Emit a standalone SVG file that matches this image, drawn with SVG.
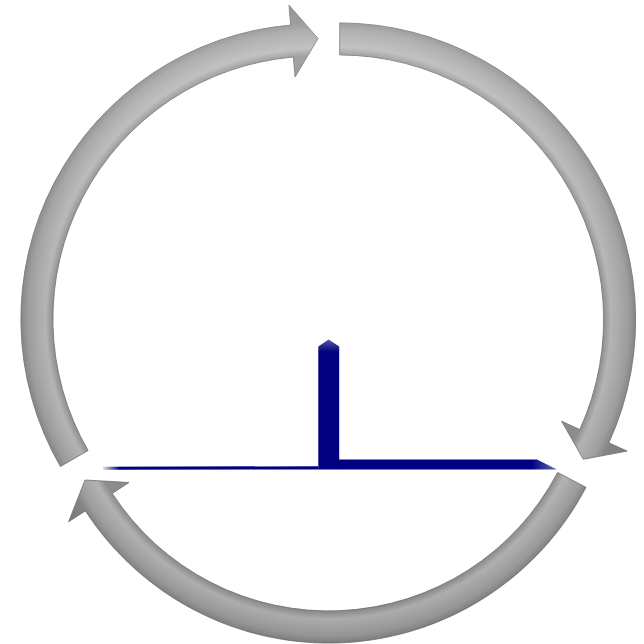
<svg xmlns="http://www.w3.org/2000/svg" width="644" height="644" viewBox="0 0 644 644">
  <defs>
    <radialGradient id="g1" gradientUnits="userSpaceOnUse" cx="315.9" cy="319" r="320">
      <stop offset="0.76" stop-color="#8a8a8a"/>
      <stop offset="0.822" stop-color="#8e8e8e"/>
      <stop offset="0.845" stop-color="#b4b4b4"/>
      <stop offset="0.87" stop-color="#aaaaaa"/>
      <stop offset="0.9" stop-color="#9c9c9c"/>
      <stop offset="0.922" stop-color="#858585"/>
      <stop offset="0.985" stop-color="#7a7a7a"/>
    </radialGradient>
    <radialGradient id="g2" gradientUnits="userSpaceOnUse" cx="338.8" cy="319.7" r="322">
      <stop offset="0.76" stop-color="#8a8a8a"/>
      <stop offset="0.822" stop-color="#8e8e8e"/>
      <stop offset="0.845" stop-color="#b4b4b4"/>
      <stop offset="0.87" stop-color="#aaaaaa"/>
      <stop offset="0.9" stop-color="#9c9c9c"/>
      <stop offset="0.922" stop-color="#858585"/>
      <stop offset="0.985" stop-color="#7a7a7a"/>
    </radialGradient>
    <radialGradient id="g3" gradientUnits="userSpaceOnUse" cx="328.8" cy="352.8" r="315">
      <stop offset="0.76" stop-color="#8a8a8a"/>
      <stop offset="0.82" stop-color="#8e8e8e"/>
      <stop offset="0.845" stop-color="#b4b4b4"/>
      <stop offset="0.87" stop-color="#aaaaaa"/>
      <stop offset="0.9" stop-color="#9c9c9c"/>
      <stop offset="0.921" stop-color="#858585"/>
      <stop offset="0.985" stop-color="#7a7a7a"/>
    </radialGradient>
    <linearGradient id="shine" gradientUnits="userSpaceOnUse" x1="0" y1="0" x2="0" y2="644">
      <stop offset="0" stop-color="#ffffff" stop-opacity="0.22"/>
      <stop offset="0.5" stop-color="#ffffff" stop-opacity="0"/>
      <stop offset="1" stop-color="#000000" stop-opacity="0.06"/>
    </linearGradient>
    <linearGradient id="rightEnd" gradientUnits="userSpaceOnUse" x1="339" y1="0" x2="558" y2="0">
      <stop offset="0" stop-color="#000080"/>
      <stop offset="0.88" stop-color="#000080"/>
      <stop offset="1" stop-color="#7070b8"/>
    </linearGradient>
    <linearGradient id="leftEnd" gradientUnits="userSpaceOnUse" x1="102" y1="0" x2="318" y2="0">
      <stop offset="0" stop-color="#f4f0e0"/>
      <stop offset="0.08" stop-color="#000080"/>
      <stop offset="1" stop-color="#000080"/>
    </linearGradient>
    <linearGradient id="topCap" gradientUnits="userSpaceOnUse" x1="0" y1="339" x2="0" y2="352">
      <stop offset="0" stop-color="#5a5aa8"/>
      <stop offset="1" stop-color="#000080"/>
    </linearGradient>
  </defs>
  <style>
    .arrow { stroke: #6e6e6e; stroke-width: 0.8; stroke-linejoin: round; }
    .shine { fill: url(#shine); stroke: none; }
    .navy { stroke: none; }
  </style>

  <g id="connectors">
    <g id="arrow-left">
      <path class="arrow" fill="url(#g1)" d="M 60.4 466.5 A 295 295 0 0 1 290.7 25.1 L 289.0 5.2 L 318 38.5 L 295.1 76.9 L 293.4 57.0 A 263 263 0 0 0 88.1 450.5 Z"/>
      <path class="shine" d="M 60.4 466.5 A 295 295 0 0 1 290.7 25.1 L 289.0 5.2 L 318 38.5 L 295.1 76.9 L 293.4 57.0 A 263 263 0 0 0 88.1 450.5 Z"/>
    </g>
    <g id="arrow-right">
      <path class="arrow" fill="url(#g2)" d="M 339.8 22.9 A 296.8 296.8 0 0 1 608.9 442.8 L 627.1 451.1 L 583.3 459.3 L 561.6 421.2 L 579.8 429.5 A 264.8 264.8 0 0 0 339.7 54.9 Z"/>
      <path class="shine" d="M 339.8 22.9 A 296.8 296.8 0 0 1 608.9 442.8 L 627.1 451.1 L 583.3 459.3 L 561.6 421.2 L 579.8 429.5 A 264.8 264.8 0 0 0 339.7 54.9 Z"/>
    </g>
    <g id="arrow-bottom">
      <path class="arrow" fill="url(#g3)" d="M 586.0 487.3 A 290.2 290.2 0 0 1 85.4 510.9 L 68.6 521.8 L 85 480 L 129.0 482.5 L 112.3 493.4 A 258.2 258.2 0 0 0 557.6 472.4 Z"/>
      <path class="shine" d="M 586.0 487.3 A 290.2 290.2 0 0 1 85.4 510.9 L 68.6 521.8 L 85 480 L 129.0 482.5 L 112.3 493.4 A 258.2 258.2 0 0 0 557.6 472.4 Z"/>
    </g>
  </g>

  <g id="axis-shape">
    <polygon class="navy" fill="url(#leftEnd)" points="103,466.8 318.5,466.2 318.5,469.4 103,469.8"/>
    <polygon class="navy" fill="url(#rightEnd)" points="338.5,459.5 537,459.5 557,469.4 338.5,469.4"/>
    <polygon class="navy" fill="url(#topCap)" points="318.3,346.5 328.6,339.5 339.2,346.5 339.2,469.4 318.3,469.4"/>
  </g>
</svg>
